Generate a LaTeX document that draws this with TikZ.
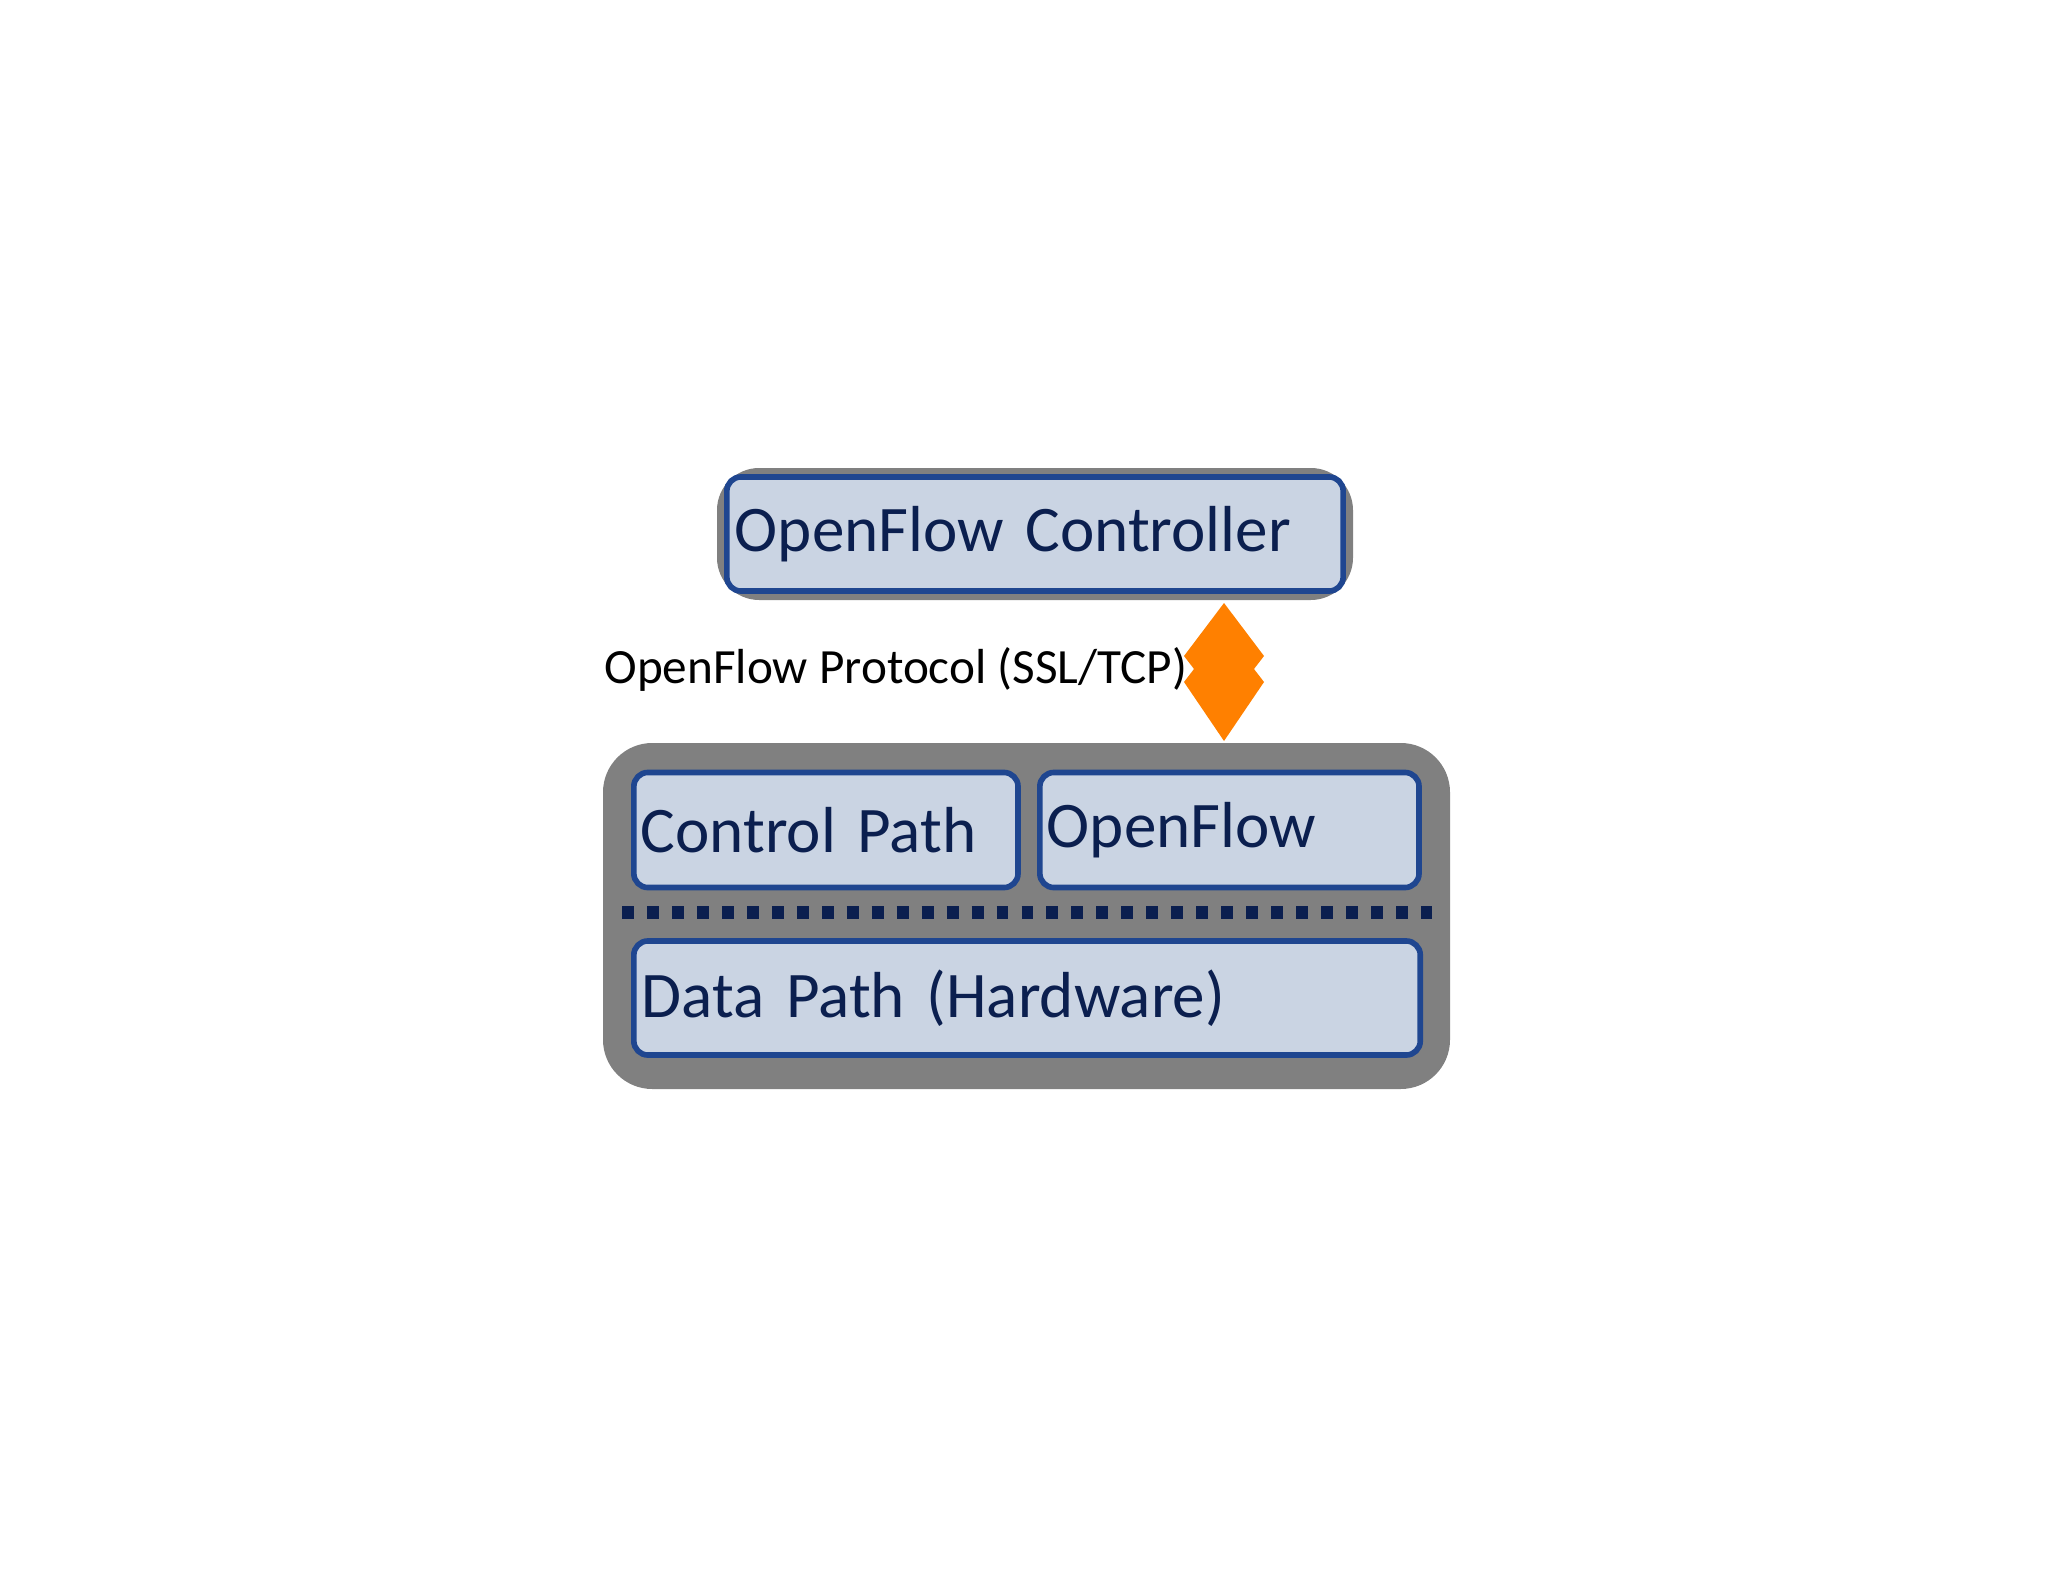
\documentclass[tikz,border=0pt]{standalone}
\usepackage{fontspec}
\setmainfont{Carlito}
\usetikzlibrary{positioning}
\definecolor{boxfill}{HTML}{CAD4E3}
\definecolor{boxline}{HTML}{1F4690}
\definecolor{txtnavy}{HTML}{0B1F4F}
\definecolor{rimgray}{HTML}{808080}
\definecolor{arroworange}{HTML}{FF8000}
\begin{document}
\begin{tikzpicture}[x=0.01cm, y=-0.01cm,
    layer/.style={rectangle, draw=boxline, line width=1.6pt, fill=boxfill, rounded corners=4pt,
        text=txtnavy, font=\fontsize{18.5}{21}\selectfont, anchor=west, align=left,
        inner xsep=1pt, inner ysep=0pt}]
    \useasboundingbox (0,0) rectangle (2048,1582);
    % outer housings
    \fill[rimgray, rounded corners=12pt] (717,468) rectangle (1353,600);
    \fill[rimgray, rounded corners=14pt] (603,743) rectangle (1450,1089);
    % boxes
    \node[layer, minimum width=6.16cm, minimum height=1.14cm, text width=6.0cm] (ctrl) at (724,534) {OpenFlow Controller};
    \node[layer, minimum width=3.84cm, minimum height=1.15cm, text width=3.7cm] (cpath) at (631,830) {Control Path};
    \node[layer, minimum width=3.79cm, minimum height=1.15cm, text width=3.65cm] (ofsw) at (1037,830) {OpenFlow};
    \node[layer, minimum width=7.86cm, minimum height=1.14cm, text width=7.7cm] (dpath) at (631,998) {Data Path (Hardware)};
    % separator
    \draw[txtnavy, line width=3.7pt, dash pattern=on 3.4pt off 3.7pt] (622,912) -- (1432,912);
    % protocol arrow
    \coordinate (atop) at (1224,603);
    \coordinate (abot) at (1224,741);
    \fill[arroworange] (atop) -- (1264,656) -- (1254,669) -- (1264,682) -- (abot)
        -- (1184,682) -- (1194,669) -- (1184,656) -- cycle;
    \node[anchor=east, font=\fontsize{14}{16}\selectfont, inner sep=0pt] (proto) at (1188,669) {OpenFlow Protocol (SSL/TCP)};
\end{tikzpicture}
\end{document}
